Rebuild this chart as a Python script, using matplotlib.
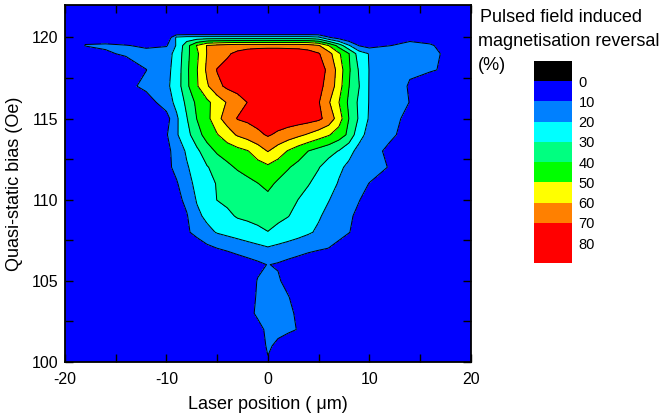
import matplotlib
matplotlib.use("Agg")
import matplotlib.pyplot as plt
import matplotlib as mpl
from matplotlib.colors import ListedColormap, BoundaryNorm
from matplotlib.ticker import MultipleLocator

plt.rcParams['font.family'] = ['Liberation Sans', 'DejaVu Sans']
plt.rcParams['axes.unicode_minus'] = False

# grid (laser position in um, bias in Oe)
x_pos = [-20, -18, -16, -14, -12, -10, -9, -8, -7, -6, -5, -4, -3, -2, -1, 0,
         1, 2, 3, 4, 5, 6, 7, 8, 9, 10, 12, 14, 16, 18, 20]
bias = [100, 101, 102, 103, 104, 105, 106, 107, 108, 109, 110, 111, 112, 113,
        114, 115, 116, 117, 118, 119, 119.5, 120, 120.3, 122]

# reversal (%) one row per bias value
reversal = [
    [0, 0, 0, 0, 0,  0, 0, 0, 0, 0,  0, 0, 0, 0, 3,  9,  4, 0, 0, 0, 0,  0, 0, 0, 0, 0,  0, 0, 0, 0, 0],
    [0, 0, 0, 0, 0,  0, 0, 0, 0, 0,  0, 0, 0, 0, 4,  11.5,  8, 3, 0, 0, 0,  0, 0, 0, 0, 0,  0, 0, 0, 0, 0],
    [0, 0, 0, 0, 0,  0, 0, 0, 0, 0,  0, 0, 0, 1, 7,  12,  12.5, 12, 9.5, 2, 0,  0, 0, 0, 0, 0,  0, 0, 0, 0, 0],
    [0, 0, 0, 0, 0,  0, 0, 0, 0, 0,  0, 0, 0, 7, 11.6,  13,  12.8, 11.5, 8.8, 2, 0,  0, 0, 0, 0, 0,  0, 0, 0, 0, 0],
    [0, 0, 0, 0, 0,  0, 0, 0, 0, 0,  0, 0, 0, 4, 11.5,  13,  12.5, 10.6, 5, 0, 0,  0, 0, 0, 0, 0,  0, 0, 0, 0, 0],
    [0, 0, 0, 0, 0,  0, 0, 0, 0, 0,  0, 0, 0, 5, 10.5,  12,  11.5, 6, 0, 0, 0,  0, 0, 0, 0, 0,  0, 0, 0, 0, 0],
    [0, 0, 0, 0, 0,  0, 0, 0, 0, 0,  0, 1, 4, 6, 8,  10.3,  9, 7, 5, 2, 0,  0, 0, 0, 0, 0,  0, 0, 0, 0, 0],
    [0, 0, 0, 0, 0,  0, 0, 0, 4, 7.5,  9.9, 11.8, 13.6, 15.4, 17.2,  19,  17.4, 15.9, 14.4, 12.9, 11.3,  9.8, 7, 4, 1, 0,  0, 0, 0, 0, 0],
    [0, 0, 0, 0, 0,  0, 3, 8.6, 12.9, 17.3,  20.7, 22.5, 24.3, 26.2, 28,  29.8,  27.6, 25.4, 23.3, 21.1, 18.6,  15.8, 13.1, 10.3, 7, 4,  0, 0, 0, 0, 0],
    [0, 0, 0, 0, 0,  2, 4, 9.2, 17.8, 22.2,  25.1, 28, 30.9, 31.8, 32.7,  33.6,  32, 30.3, 27.2, 24.1, 20.9,  17.7, 14.5, 11.3, 8, 5,  0, 0, 0, 0, 0],
    [0, 0, 0, 0, 0,  4, 7, 12.5, 20.8, 25.5,  30.2, 32, 33.5, 35, 36.2,  37.3,  35.5, 33, 29.9, 26.8, 23.5,  20.3, 17, 13.7, 10.3, 7,  2, 0, 0, 0, 0],
    [0, 0, 0, 0, 2,  6, 9, 16.6, 22.5, 26.8,  30.6, 32.9, 35.2, 37.5, 39.8,  42.6,  38.4, 35.8, 33.2, 30.5, 26.9,  23.1, 19.4, 16.3, 13.1, 9.8,  4, 0, 0, 0, 0],
    [0, 0, 0, 0, 3,  7, 12.9, 19, 24.2, 29.3,  33.6, 37.9, 41.1, 43.5, 46,  48,  45, 40.7, 37.3, 33.9, 30.5,  26, 21.4, 18.4, 16.2, 14,  9.5, 4, 0, 0, 0],
    [0, 0, 0, 0, 3,  7, 14.1, 21.3, 27.9, 35.8,  41.4, 44.1, 46.8, 49.5, 54.7,  60.5,  54.9, 49.3, 44.4, 39.9, 36.4,  33.1, 29.6, 22.2, 17.7, 14.3,  7.7, 3, 0, 0, 0],
    [0, 0, 0, 0, 2,  9, 18.9, 26.4, 36.2, 43.8,  49.3, 55.6, 61, 64.3, 67.7,  71,  68.2, 65.2, 62.1, 58.8, 54.8,  50.8, 45, 37.8, 22.5, 17.5,  12, 6, 1, 0, 0],
    [0, 0, 0, 0, 3,  6, 18.3, 29.4, 40.2, 46.8,  57.5, 64, 70.5, 72, 74,  75,  75.5, 75.5, 75, 74, 72,  66.4, 55, 39.8, 28.6, 18.9,  13.1, 7.5, 2, 0, 0],
    [0, 0, 0, 3, 5,  15, 22.7, 32.2, 42.3, 47.8,  54.3, 60.9, 65.5, 70.2, 73,  75,  76, 76, 75, 73.5, 70.8,  61.1, 50.2, 38, 28, 19.5,  14.6, 9.8, 4, 0, 0],
    [0, 0, 0, 7, 12.5,  18, 24.3, 37.7, 48.9, 58.7,  67.4, 72, 74, 76, 77,  78,  78, 78, 77, 75, 72,  67.5, 54.3, 40.2, 30.2, 19.5,  14.4, 9.3, 3, 0, 0],
    [0, 0, 0, 6, 9.8,  17.2, 23.8, 37.9, 49.4, 61.8,  70.5, 73, 75, 77, 78,  78,  78, 78, 77, 75, 72.5,  68.8, 55.7, 41.4, 28.9, 19.7,  17, 11, 11, 8, 0],
    [0, 5, 9.2, 10.8, 14,  17, 22.3, 37.1, 48, 60.4,  64.6, 68.8, 72, 75, 77,  78,  78, 77, 76, 74, 70.8,  63.7, 51.6, 40.2, 25, 19.5,  17, 15, 13, 7, 0],
    [0, 10.3, 10.8, 10.6, 8,  9, 21, 36, 50.5, 60.5,  63, 65, 66, 66, 66,  66,  66, 66, 66, 65, 61,  50, 36, 21, 9.5, 6,  9.8, 12, 11, 6, 0],
    [0, 8, 7, 0, 0,  0, 22, 24, 24, 24,  24, 24, 24, 24, 24,  24,  24, 24, 24, 24, 22,  11, 5, 0, 0, 0,  5, 8, 6, 0, 0],
    [0] * 31,
    [0] * 31,
]

levels = [0, 10, 20, 30, 40, 50, 60, 70, 80]
level_colors = ["#0000ff", "#0080ff", "#00ffff", "#00ff80", "#00ff00",
                "#ffff00", "#ff8000", "#ff0000"]
legend_bounds = [-10, 0, 10, 20, 30, 40, 50, 60, 70, 80, 90]
legend_colors = ["#000000"] + level_colors + ["#ff0000"]
legend_ticks = [0, 10, 20, 30, 40, 50, 60, 70, 80]

fig = plt.figure(figsize=(6.64, 4.2), dpi=100)
ax = fig.add_axes([65 / 664, 58 / 420, 405.7 / 664, 357 / 420])
ax.set_facecolor("#0000ff")

ax.contourf(x_pos, bias, reversal, levels=levels, colors=level_colors)
ax.contour(x_pos, bias, reversal, levels=levels[1:-1], colors="k", linewidths=0.7)

ax.set_xlim(-20, 20)
ax.set_ylim(100, 122)
ax.set_xticks([-20, -10, 0, 10, 20])
ax.xaxis.set_minor_locator(MultipleLocator(5))
ax.set_yticks([100, 105, 110, 115, 120])
ax.yaxis.set_minor_locator(MultipleLocator(2.5))
ax.tick_params(which="both", direction="in", top=True, right=True,
               length=6, width=1, labelsize=11.5)
ax.tick_params(axis="x", pad=7)
ax.tick_params(axis="y", pad=5)
for s in ax.spines.values():
    s.set_linewidth(1.3)

ax.set_xlabel("Laser position ( μm)", fontsize=13, labelpad=7)
ax.set_ylabel("Quasi-static bias (Oe)", fontsize=13, labelpad=6)

# legend block on the right
fig.text(480 / 664, 1 - 17 / 420, "Pulsed field induced", fontsize=13, va="center", ha="left")
fig.text(478 / 664, 1 - 41 / 420, "magnetisation reversal", fontsize=13, va="center", ha="left")
fig.text(478 / 664, 1 - 65 / 420, "(%)", fontsize=13, va="center", ha="left")

cax = fig.add_axes([534 / 664, (420 - 263.3) / 420, 37.7 / 664, 202.3 / 420])
cmap = ListedColormap(legend_colors)
norm = BoundaryNorm(legend_bounds, cmap.N)
cb = fig.colorbar(mpl.cm.ScalarMappable(norm=norm, cmap=cmap), cax=cax, ticks=legend_ticks)
cb.outline.set_visible(False)
cax.minorticks_off()
cax.invert_yaxis()
cax.tick_params(which="both", length=0, pad=5, labelsize=10.5)

fig.savefig("out.png", dpi=100)
